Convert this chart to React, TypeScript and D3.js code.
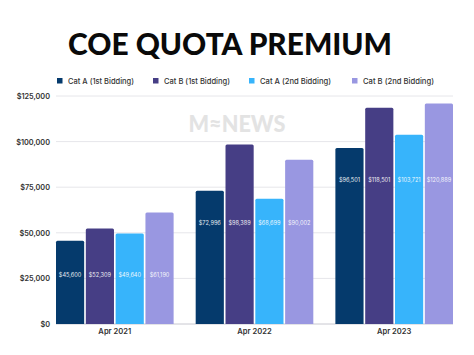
import React from "react";
import * as d3 from "d3";

const periods = ["Apr 2021", "Apr 2022", "Apr 2023"];
const seriesNames = ["Cat A (1st Bidding)", "Cat B (1st Bidding)", "Cat A (2nd Bidding)", "Cat B (2nd Bidding)"];
const catA1 = [45600, 72996, 96501];
const catB1 = [52309, 98389, 118501];
const catA2 = [49640, 68699, 103721];
const catB2 = [61190, 90002, 120889];
const yTicks = [0, 25000, 50000, 75000, 100000, 125000];
const colors = ["#053a6c", "#463e85", "#37b4fb", "#9997e1"];

const W = 474;
const H = 355;

export default function App() {
  const series = [catA1, catB1, catA2, catB2];
  const left = 56, right = 453, top = 96, bottom = 324;
  const x0 = d3.scaleBand<string>().domain(periods).range([left, right]).paddingInner(0.158).paddingOuter(0);
  const x1 = d3.scaleBand<number>().domain([0, 1, 2, 3]).range([0, x0.bandwidth()]).paddingInner(0.055).paddingOuter(0);
  const y = d3.scaleLinear().domain([0, 125000]).range([bottom, top]);
  const fmt = d3.format("$,");
  // label anchor per group (in data units) to mimic the reference placement
  const labelAnchor = [27000, 55200, 78800];
  const font = "Inter, 'Open Sans', sans-serif";
  const legendX = [57, 153, 249, 352];

  return (
    <svg width={W} height={H} style={{ position: "absolute", left: 0, top: 0, background: "#fff" }} fontFamily={font}>
      <rect x={0} y={0} width={W} height={H} fill="#fff" />
      <text x={230} y={55} textAnchor="middle" fontFamily="Lato, sans-serif" fontWeight={900} fontSize={31} fill="#0a0a0a" textLength={324} lengthAdjust="spacingAndGlyphs">
        COE QUOTA PREMIUM
      </text>
      {seriesNames.map((n, i) => (
        <g key={n}>
          <rect x={legendX[i]} y={78} width={5.5} height={5.5} fill={colors[i]} />
          <text x={legendX[i] + 11} y={83.5} fontSize={7.6} fill="#333" fontWeight={500} textLength={i < 2 ? 66 : 71} lengthAdjust="spacingAndGlyphs">{n}</text>
        </g>
      ))}
      {yTicks.map((t) => (
        <g key={t}>
          <line x1={left} x2={right} y1={y(t)} y2={y(t)} stroke={t === 0 ? "#c8c8d0" : "#e6e6ea"} strokeWidth={1} />
          <text x={50} y={y(t) + 3} textAnchor="end" fontSize={7.3} fontWeight={600} fill="#333">{fmt(t)}</text>
        </g>
      ))}
      <text x={237} y={132} textAnchor="middle" fontSize={22} fontWeight={900} fill="#e3e3e3" fontFamily="Lato, sans-serif" textLength={97} lengthAdjust="spacingAndGlyphs">M≈NEWS</text>
      {periods.map((p, gi) => (
        <g key={p} transform={`translate(${x0(p)},0)`}>
          {series.map((s, si) => {
            const bx = x1(si)!;
            const by = y(s[gi]);
            const bw = x1.bandwidth();
            const bh = y(0) - by;
            const r = 1.5;
            const path = `M${bx},${by + bh} V${by + r} Q${bx},${by} ${bx + r},${by} H${bx + bw - r} Q${bx + bw},${by} ${bx + bw},${by + r} V${by + bh} Z`;
            return (
              <g key={si}>
                <path d={path} fill={colors[si]} />
                <text x={bx + bw / 2} y={y(labelAnchor[gi]) + 2} textAnchor="middle" fontSize={5.6} fill="#fff" opacity={0.9}>{fmt(s[gi])}</text>
              </g>
            );
          })}
          <text x={x0.bandwidth() / 2} y={334} textAnchor="middle" fontSize={7.6} fontWeight={600} fill="#333">{p}</text>
        </g>
      ))}
    </svg>
  );
}
